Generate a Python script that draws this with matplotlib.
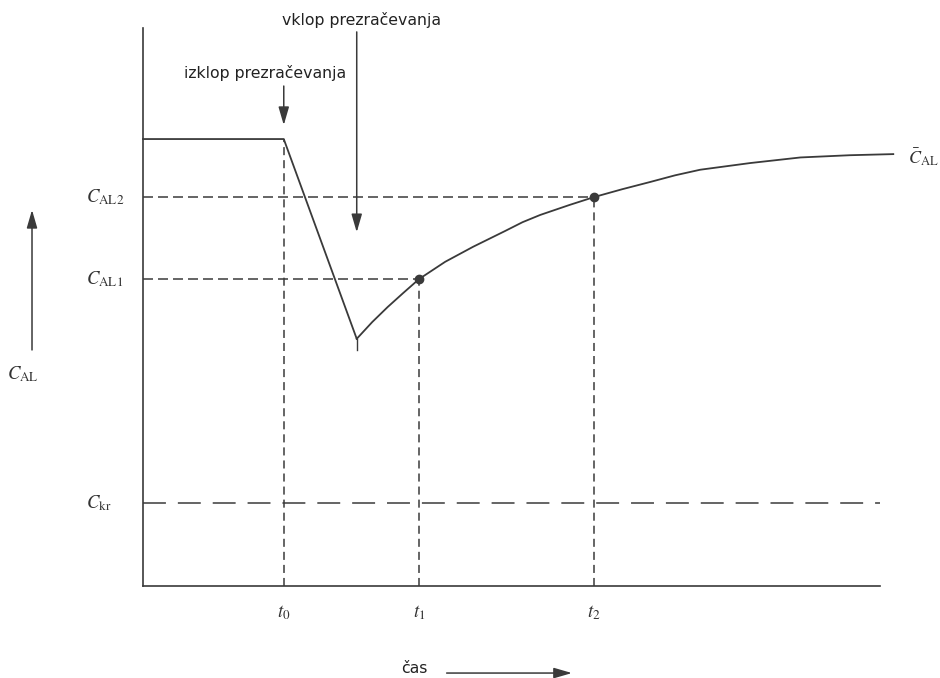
import matplotlib
matplotlib.use("Agg")
import matplotlib.pyplot as plt
import numpy as np

plt.rcParams['mathtext.fontset'] = 'stix'
plt.rcParams['lines.scale_dashes'] = False

# time axis (arbitrary units), concentration (arbitrary units)
t0 = 1.91          # izklop prezracevanja
t_on = 2.90        # vklop prezracevanja
t1 = 3.745
t2 = 6.12
c_start = 8.01
c_al1 = 5.50
c_al2 = 6.97
c_kr = 1.49

# concentration before switch-off and falling part
fall_t = [0.0, t0, t_on]
fall_c = [c_start, c_start, 4.43]

# recovery after ventilation is switched on
rise_t = [2.90, 3.11, 3.32, 3.53, 3.745, 4.10, 4.48, 4.91, 5.15, 5.39, 5.79,
          6.12, 6.50, 6.88, 7.22, 7.56, 7.90, 8.24, 8.58, 8.92, 9.59, 10.18]
rise_c = [4.43, 4.73, 5.00, 5.25, 5.50, 5.81, 6.08, 6.36, 6.52, 6.65, 6.83,
          6.97, 7.11, 7.24, 7.36, 7.46, 7.52, 7.58, 7.63, 7.68, 7.72, 7.74]

col = '#3a3a3a'
fig = plt.figure(figsize=(9.4, 6.78), dpi=100)
ax = fig.add_axes([143/940, 92/678, 737/940, 558/678])
ax.set_xlim(0, 10)
ax.set_ylim(0, 10)
for s in ['top', 'right']:
    ax.spines[s].set_visible(False)
for s in ['left', 'bottom']:
    ax.spines[s].set_color(col)
    ax.spines[s].set_linewidth(1.2)
ax.set_xticks([])
ax.set_yticks([])

ax.plot(fall_t, fall_c, color=col, lw=1.3, clip_on=False)
ax.plot(rise_t, rise_c, color=col, lw=1.3, clip_on=False)
ax.plot([t_on, t_on], [4.43, 4.23], color=col, lw=1.0)
ax.plot([t1, t2], [c_al1, c_al2], 'o', color=col, ms=6, zorder=5)

short = (0, (7.2, 3.6))
vert = (0, (5.8, 3.6))
ax.plot([0, t2], [c_al2, c_al2], color=col, lw=1.1, ls=short)
ax.plot([0, t1], [c_al1, c_al1], color=col, lw=1.1, ls=short)
ax.plot([t0, t0], [0, c_start], color=col, lw=1.1, ls=vert)
ax.plot([t1, t1], [0, c_al1], color=col, lw=1.1, ls=vert)
ax.plot([t2, t2], [0, c_al2], color=col, lw=1.1, ls=vert)
ax.plot([0, 10], [c_kr, c_kr], color=col, lw=1.1, ls=(0, (16.5, 8.6)))

arrow = dict(arrowstyle='-|>,head_length=0.55,head_width=0.16',
             mutation_scale=20, color=col, lw=1.1, shrinkA=0, shrinkB=0)
ax.annotate('', xy=(t0, 8.26), xytext=(t0, 8.96), arrowprops=arrow,
            annotation_clip=False)
ax.annotate('', xy=(t_on, 6.34), xytext=(t_on, 9.93), arrowprops=arrow,
            annotation_clip=False)
ax.annotate('', xy=(-1.506, 6.74), xytext=(-1.506, 4.23), arrowprops=arrow,
            annotation_clip=False)
ax.annotate('', xy=(5.82, -1.56), xytext=(4.12, -1.56), arrowprops=arrow,
            annotation_clip=False)

txt = dict(ha='center', va='center', fontsize=11.3, color='#222222', clip_on=False)
ax.text(1.655, 9.19, 'izklop prezračevanja', **txt)
ax.text(2.97, 10.14, 'vklop prezračevanja', **txt)
ax.text(3.68, -1.47, 'čas', **txt)

lab = dict(fontsize=13.5, color='#333333', va='center', clip_on=False)
ax.text(-0.77, c_al2, r'$C_{\mathrm{AL2}}$', ha='left', **lab)
ax.text(-0.77, c_al1, r'$C_{\mathrm{AL1}}$', ha='left', **lab)
ax.text(-0.78, c_kr, r'$C_{\mathrm{kr}}$', ha='left', **lab)
ax.text(-1.63, 3.80, r'$C_{\mathrm{AL}}$', ha='center', **lab)
ax.text(10.38, 7.69, r'$\bar{C}_{\mathrm{AL}}$', ha='left', fontsize=13,
        color='#333333', va='center', clip_on=False)
for tx, name in zip([t0, t1, t2], ['0', '1', '2']):
    ax.text(tx, -0.47, r'$t_{\mathrm{%s}}$' % name, ha='center', **lab)

fig.savefig('out.png', dpi=100)
